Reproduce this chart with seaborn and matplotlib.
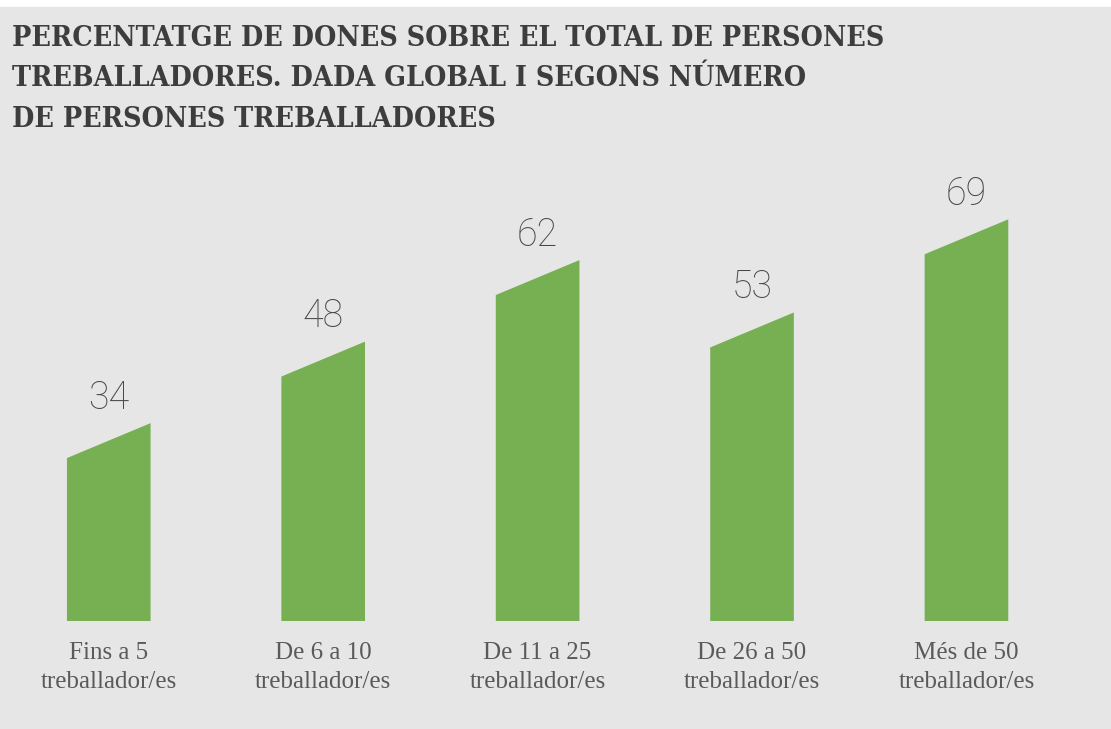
import numpy as np
import pandas as pd
import matplotlib.pyplot as plt
import seaborn as sns
from matplotlib.patches import Polygon, Rectangle

# data
categories = ['Fins a 5\ntreballador/es', 'De 6 a 10\ntreballador/es', 'De 11 a 25\ntreballador/es',
              'De 26 a 50\ntreballador/es', 'Més de 50\ntreballador/es']
values = [34, 48, 62, 53, 69]
title = ('PERCENTATGE DE DONES SOBRE EL TOTAL DE PERSONES\n'
         'TREBALLADORES. DADA GLOBAL I SEGONS NÚMERO\n'
         'DE PERSONES TREBALLADORES')

bg = '#e6e6e6'
green = '#76b052'
slant = 6  # how far the left top corner drops, in data units

df = pd.DataFrame({'cat': categories, 'val': values})

sns.set_style('white')
fig = plt.figure(figsize=(11.11, 7.29), dpi=100)
fig.patch.set_facecolor('white')
fig.add_artist(Rectangle((0, 0), 1, 722/729, transform=fig.transFigure, color=bg, zorder=0))

ax = fig.add_axes([0.0014, 0.148, 0.965, 0.639])
ax.set_facecolor('none')
sns.barplot(data=df, x='cat', y='val', color=green, width=0.39, saturation=1, ax=ax)

# turn each bar into a slanted-top shape
for p, v in zip(list(ax.patches), values):
    x0, w, h = p.get_x(), p.get_width(), p.get_height()
    p.set_visible(False)
    ax.add_patch(Polygon([(x0, 0), (x0 + w, 0), (x0 + w, h), (x0, h - slant)],
                         closed=True, facecolor=green, lw=0))
    ax.text(x0 + w / 2, h + 2.5, f'{v}', ha='center', va='baseline', fontsize=27,
            family='Roboto', weight='light', color='#474747')

ax.set_xlim(-0.5, 4.5)
ax.set_ylim(0, 80)
ax.set_yticks([])
ax.set_xlabel('')
ax.set_ylabel('')
ax.tick_params(axis='x', length=0, pad=15, labelsize=18, labelcolor='#5a5a5a')
for lab in ax.get_xticklabels():
    lab.set_family('Liberation Serif')
    lab.set_linespacing(1.42)
sns.despine(left=True, bottom=True)

fig.text(12/1111, 1 - 25/729, title, ha='left', va='top', fontsize=20.5, fontweight='bold',
         family='DejaVu Serif', fontstretch='condensed', color='#3d3d3d', linespacing=1.64)

fig.savefig('out.png', dpi=100)
